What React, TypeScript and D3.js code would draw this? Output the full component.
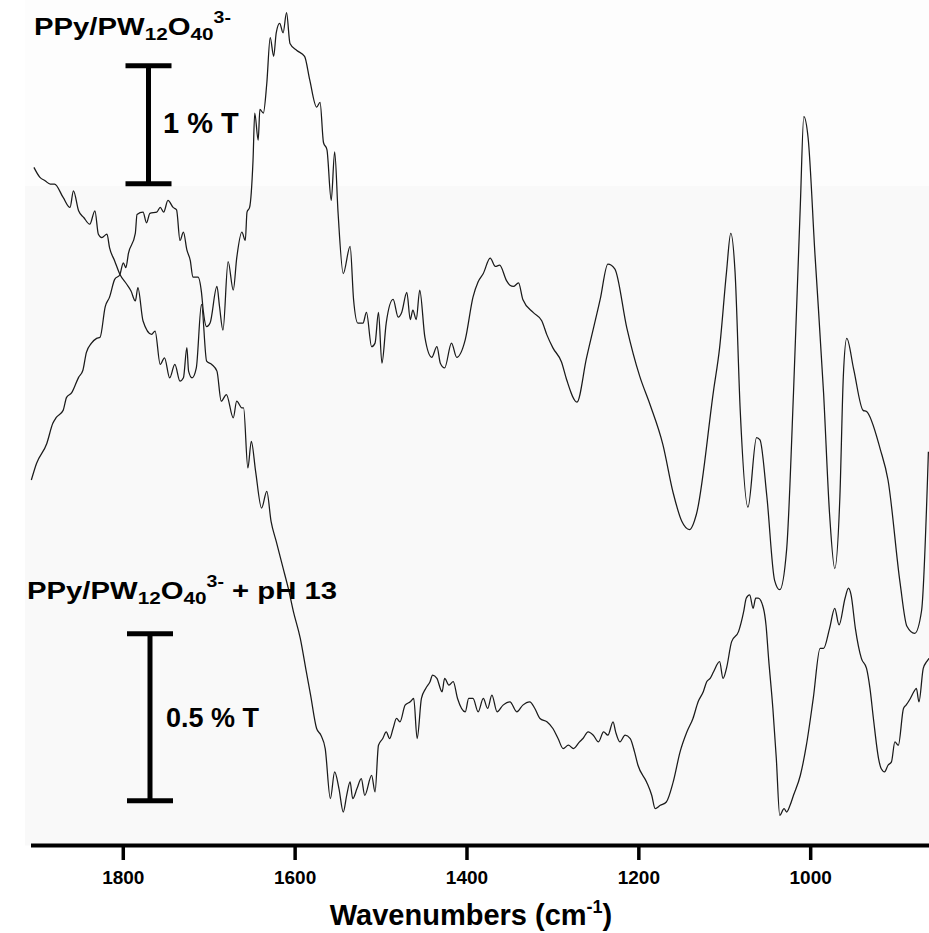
import React from 'react';
import * as d3 from 'd3';

// ---- data ----
const tickValues: number[] = [1800, 1600, 1400, 1200, 1000];
const wavenumberDomain: [number, number] = [1907.4, 862.3];

// PPy/PW12O40(3-) spectrum: [wavenumber (cm-1), relative %T]
const topSpectrum: [number, number][] = [
  [1907, 0], [1901, 0.14], [1889, 0.31], [1882, 0.48], [1878, 0.53], [1870, 0.59], [1866, 0.7], [1860, 0.74],
  [1852, 0.87], [1847, 0.93], [1843, 1.08], [1837, 1.16], [1831, 1.2], [1827, 1.21], [1821, 1.47], [1816, 1.55],
  [1810, 1.7], [1804, 1.74], [1800, 1.84], [1797, 1.8], [1794, 1.92], [1786, 2.09], [1784, 2.25], [1777, 2.27],
  [1773, 2.18], [1769, 2.26], [1761, 2.27], [1757, 2.31], [1753, 2.27], [1748, 2.37], [1742, 2.31], [1738, 2.29],
  [1734, 2.03], [1730, 2.1], [1726, 1.95], [1722, 1.86], [1719, 1.72], [1713, 1.72], [1709, 1.59], [1707, 1.44],
  [1703, 1.3], [1699, 1.33], [1691, 1.64], [1688, 1.47], [1684, 1.27], [1678, 1.85], [1672, 1.61], [1668, 1.88],
  [1662, 2.1], [1658, 2.03], [1656, 2.27], [1653, 2.31], [1649, 2.71], [1647, 3.11], [1643, 2.88], [1641, 3.14],
  [1637, 3.11], [1633, 3.36], [1629, 3.75], [1625, 3.59], [1622, 3.79], [1618, 3.87], [1614, 3.79], [1610, 3.96],
  [1606, 3.7], [1598, 3.64], [1589, 3.59], [1583, 3.39], [1575, 3.16], [1571, 3.2], [1567, 2.86], [1563, 2.8],
  [1558, 2.37], [1554, 2.78], [1550, 2.26], [1544, 1.75], [1536, 1.98], [1532, 1.53], [1527, 1.33], [1521, 1.33],
  [1517, 1.42], [1511, 1.13], [1507, 1.16], [1503, 1.42], [1499, 0.99], [1494, 1.33], [1486, 1.53], [1480, 1.38],
  [1476, 1.42], [1470, 1.59], [1466, 1.36], [1463, 1.44], [1459, 1.36], [1455, 1.61], [1449, 1.21], [1441, 1.04],
  [1435, 1.13], [1431, 0.99], [1426, 0.95], [1418, 1.16], [1412, 1.04], [1402, 1.19], [1393, 1.55], [1387, 1.68],
  [1381, 1.75], [1373, 1.88], [1367, 1.81], [1362, 1.82], [1354, 1.69], [1350, 1.65], [1346, 1.64], [1340, 1.67],
  [1335, 1.53], [1323, 1.42], [1313, 1.35], [1307, 1.23], [1300, 1.12], [1290, 1.0], [1284, 0.85], [1272, 0.66],
  [1261, 1.03], [1245, 1.53], [1236, 1.83], [1228, 1.79], [1214, 1.29], [1199, 0.88], [1187, 0.64], [1172, 0.3],
  [1160, -0.11], [1150, -0.35], [1141, -0.42], [1133, -0.29], [1113, 0.76], [1106, 1.12], [1098, 1.76], [1093, 2.09],
  [1088, 1.76], [1082, 0.59], [1073, -0.23], [1063, 0.36], [1059, 0.34], [1051, -0.14], [1042, -0.85], [1036, -0.93],
  [1028, -0.59], [1020, 0.74], [1012, 2.34], [1008, 3.08], [1003, 2.9], [995, 1.91], [985, 0.74], [978, -0.29],
  [972, -0.75], [966, -0.14], [962, 0.88], [958, 1.2], [950, 0.94], [939, 0.59], [935, 0.58], [919, 0.26],
  [910, 0], [896, -0.87], [888, -1.24], [879, -1.3], [871, -1.11], [863, 0.24],
];

// PPy/PW12O40(3-) + pH 13 spectrum: [wavenumber (cm-1), relative %T]
const bottomSpectrum: [number, number][] = [
  [1904, 1.93], [1897, 1.9], [1891, 1.89], [1885, 1.88], [1880, 1.88], [1870, 1.84], [1862, 1.81], [1858, 1.86],
  [1852, 1.8], [1846, 1.78], [1839, 1.76], [1833, 1.8], [1829, 1.73], [1825, 1.72], [1819, 1.73], [1816, 1.69],
  [1810, 1.65], [1804, 1.61], [1796, 1.58], [1791, 1.56], [1786, 1.53], [1783, 1.57], [1777, 1.47], [1767, 1.43],
  [1763, 1.44], [1757, 1.34], [1752, 1.36], [1746, 1.3], [1740, 1.34], [1734, 1.29], [1730, 1.3], [1726, 1.39],
  [1724, 1.32], [1720, 1.3], [1715, 1.33], [1709, 1.52], [1703, 1.35], [1697, 1.34], [1691, 1.32], [1686, 1.23],
  [1680, 1.25], [1672, 1.18], [1668, 1.23], [1662, 1.21], [1660, 1.21], [1655, 1.03], [1651, 1.11], [1646, 1.02],
  [1639, 0.91], [1633, 0.96], [1628, 0.87], [1622, 0.81], [1614, 0.73], [1608, 0.67], [1602, 0.6], [1594, 0.52],
  [1587, 0.42], [1582, 0.35], [1575, 0.25], [1570, 0.23], [1565, 0.19], [1559, 0.04], [1554, 0.12], [1549, 0.07],
  [1544, 0], [1540, 0.05], [1536, 0.09], [1533, 0.04], [1528, 0.07], [1523, 0.1], [1519, 0.05], [1511, 0.11],
  [1507, 0.06], [1503, 0.2], [1498, 0.22], [1494, 0.24], [1490, 0.22], [1486, 0.25], [1482, 0.28], [1478, 0.27],
  [1472, 0.32], [1466, 0.33], [1462, 0.34], [1458, 0.22], [1453, 0.34], [1448, 0.37], [1443, 0.39], [1440, 0.41],
  [1435, 0.4], [1429, 0.36], [1426, 0.4], [1421, 0.38], [1416, 0.39], [1411, 0.34], [1402, 0.3], [1398, 0.34],
  [1393, 0.34], [1387, 0.3], [1381, 0.34], [1376, 0.31], [1371, 0.35], [1365, 0.3], [1358, 0.32], [1350, 0.33],
  [1342, 0.3], [1335, 0.32], [1327, 0.33], [1321, 0.31], [1315, 0.28], [1307, 0.27], [1300, 0.25], [1294, 0.22],
  [1288, 0.19], [1282, 0.2], [1276, 0.19], [1269, 0.21], [1265, 0.22], [1259, 0.24], [1253, 0.23], [1247, 0.21],
  [1241, 0.24], [1236, 0.23], [1230, 0.27], [1227, 0.24], [1222, 0.21], [1216, 0.23], [1210, 0.22], [1205, 0.18],
  [1201, 0.14], [1191, 0.09], [1185, 0.05], [1181, 0.01], [1175, 0.02], [1168, 0.03], [1160, 0.09], [1152, 0.18],
  [1144, 0.24], [1137, 0.28], [1131, 0.33], [1125, 0.36], [1121, 0.39], [1117, 0.4], [1113, 0.42], [1106, 0.45],
  [1102, 0.4], [1098, 0.43], [1092, 0.51], [1084, 0.54], [1078, 0.6], [1075, 0.64], [1071, 0.65], [1067, 0.61],
  [1064, 0.64], [1061, 0.64], [1055, 0.61], [1052, 0.56], [1049, 0.46], [1044, 0.31], [1040, 0.16], [1036, -0.01],
  [1031, 0.01], [1028, 0], [1024, 0.02], [1020, 0.05], [1012, 0.11], [1005, 0.2], [997, 0.34], [989, 0.49],
  [985, 0.49], [978, 0.55], [972, 0.61], [967, 0.56], [960, 0.64], [956, 0.67], [953, 0.65], [948, 0.55],
  [941, 0.46], [935, 0.43], [931, 0.37], [927, 0.28], [921, 0.16], [918, 0.13], [914, 0.12], [910, 0.14],
  [906, 0.15], [902, 0.21], [898, 0.2], [892, 0.31], [889, 0.32], [884, 0.34], [880, 0.36], [877, 0.37],
  [874, 0.33], [869, 0.43], [865, 0.45], [862.3, 0.46],
];

// scale bars: [lower value, span] in %T
const topBar: [number, number] = [2.51, 1];
const bottomBar: [number, number] = [0.034, 0.5];
const topBarLabel = '1 % T';
const bottomBarLabel = '0.5 % T';

// ---- layout ----
const W = 929;
const H = 933;
const FONT = "'Liberation Sans', Arial, Helvetica, sans-serif";
const axisY = 845.5;

export default function App() {
  const x = d3.scaleLinear().domain(wavenumberDomain).range([31, 929]);
  const yTop = d3.scaleLinear().domain([0, 1]).range([480, 362]);
  const yBottom = d3.scaleLinear().domain([0, 0.5]).range([812, 645]);

  const lineTop = d3
    .line<[number, number]>()
    .x((d) => x(d[0]))
    .y((d) => yTop(d[1]))
    .curve(d3.curveMonotoneX);
  const lineBottom = d3
    .line<[number, number]>()
    .x((d) => x(d[0]))
    .y((d) => yBottom(d[1]))
    .curve(d3.curveMonotoneX);

  const bar = (x0: number, y1: number, y2: number) => (
    <g stroke="#000" strokeWidth={5} strokeLinecap="butt">
      <line x1={x0} x2={x0} y1={y1} y2={y2} />
      <line x1={x0 - 23} x2={x0 + 23} y1={y1} y2={y1} />
      <line x1={x0 - 23} x2={x0 + 23} y1={y2} y2={y2} />
    </g>
  );

  const title = (tx: number, ty: number, suffix: string) => (
    <g transform={`translate(${tx},${ty}) scale(1.22,1)`}>
      <text fontFamily={FONT} fontWeight="bold" fontSize={24} fill="#000">
        PPy/PW
        <tspan fontSize={17} dy={5}>12</tspan>
        <tspan dy={-5}>O</tspan>
        <tspan fontSize={17} dy={5}>40</tspan>
        <tspan fontSize={16} dy={-17}>3-</tspan>
        {suffix ? <tspan dy={12}>{suffix}</tspan> : null}
      </text>
    </g>
  );

  return (
    <svg
      width={W}
      height={H}
      style={{ position: 'absolute', left: 0, top: 0, display: 'block' }}
      xmlns="http://www.w3.org/2000/svg"
    >
      <rect x={0} y={0} width={W} height={H} fill="#ffffff" />
      <rect x={25} y={0} width={W - 25} height={186} fill="#fdfdfd" />
      <rect x={25} y={186} width={W - 25} height={axisY - 186} fill="#f9f9f9" />

      {/* spectra */}
      <path d={lineTop(topSpectrum) || ''} fill="none" stroke="#1a1a1a" strokeWidth={1.25} />
      <path d={lineBottom(bottomSpectrum) || ''} fill="none" stroke="#1a1a1a" strokeWidth={1.25} />

      {/* labels and scale bars */}
      {title(34, 35, '')}
      {bar(148.5, yTop(topBar[0] + topBar[1]), yTop(topBar[0]))}
      <text x={163} y={133} fontFamily={FONT} fontWeight="bold" fontSize={29} fill="#000">
        {topBarLabel}
      </text>

      {title(27, 599, ' + pH 13')}
      {bar(150, yBottom(bottomBar[0] + bottomBar[1]), yBottom(bottomBar[0]))}
      <text x={166} y={727} fontFamily={FONT} fontWeight="bold" fontSize={27} fill="#000">
        {bottomBarLabel}
      </text>

      {/* x axis */}
      <line x1={31} x2={929} y1={axisY} y2={axisY} stroke="#000" strokeWidth={4} />
      {tickValues.map((t) => (
        <g key={t}>
          <line x1={x(t)} x2={x(t)} y1={axisY} y2={860} stroke="#000" strokeWidth={3.5} />
          <text
            x={x(t)}
            y={884}
            textAnchor="middle"
            fontFamily={FONT}
            fontWeight="bold"
            fontSize={19}
            fill="#000"
          >
            {t}
          </text>
        </g>
      ))}
      <text x={471} y={925} textAnchor="middle" fontFamily={FONT} fontWeight="bold" fontSize={29} fill="#000">
        Wavenumbers (cm<tspan fontSize={18} dy={-12}>-1</tspan>
        <tspan dy={12}>)</tspan>
      </text>
    </svg>
  );
}
